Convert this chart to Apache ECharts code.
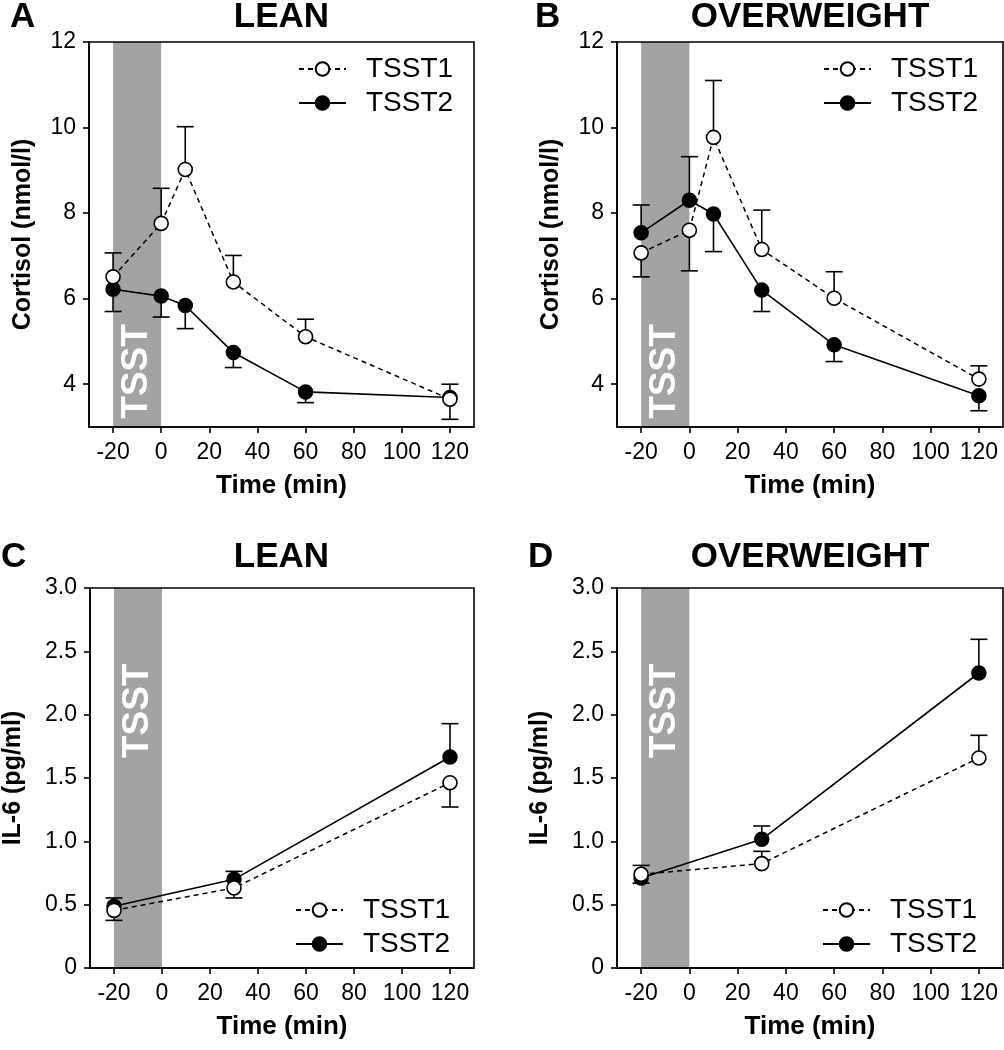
<!DOCTYPE html>
<html>
<head>
<meta charset="utf-8">
<script src="https://cdn.jsdelivr.net/npm/echarts@6/dist/echarts.min.js"></script>
<style>
  html, body { margin: 0; padding: 0; background: #fff; }
  #chart { width: 1004px; height: 1050px; }
</style>
</head>
<body>
<div id="chart"></div>
<script>
// --- data ---
const cortTimes = [-20, 0, 10, 30, 60, 120];
const il6Times = [-20, 30, 120];

// cortisol, lean (A)
const cortLeanT1 = [6.51, 7.76, 9.02, 6.39, 5.11, 3.65];
const cortLeanT1Cap = [7.07, 8.58, 10.02, 7.01, 5.52, 4.00];
const cortLeanT2 = [6.22, 6.06, 5.84, 4.74, 3.82, 3.69];
const cortLeanT2Cap = [5.70, 5.57, 5.30, 4.39, 3.57, 3.18];

// cortisol, overweight (B)
const cortOwT1 = [7.07, 7.60, 9.77, 7.15, 6.01, 4.12];
const cortOwT1Cap = [6.51, 6.65, 11.10, 8.07, 6.63, 4.43];
const cortOwT2 = [7.54, 8.30, 7.98, 6.20, 4.92, 3.73];
const cortOwT2Cap = [8.19, 9.32, 7.10, 5.70, 4.53, 3.38];

// IL-6, lean (C)
const il6LeanT1 = [0.455, 0.632, 1.463];
const il6LeanT1Cap = [0.376, 0.553, 1.271];
const il6LeanT2 = [0.487, 0.70, 1.666];
const il6LeanT2Cap = [0.553, 0.763, 1.929];

// IL-6, overweight (D)
const il6OwT1 = [0.74, 0.824, 1.658];
const il6OwT1Cap = [0.81, 0.921, 1.837];
const il6OwT2 = [0.71, 1.016, 2.329];
const il6OwT2Cap = [0.67, 1.121, 2.595];

const xTicks = [-20, 0, 20, 40, 60, 80, 100, 120];
const cortTicks = [4, 6, 8, 10, 12];
const tsstBand = [-20, 0];

const FONT = 'Liberation Sans, Arial, Helvetica, sans-serif';

const panels = [
  { letter: 'A', title: 'LEAN', kind: 'cort', times: cortTimes, t1: cortLeanT1, t1Cap: cortLeanT1Cap, t2: cortLeanT2, t2Cap: cortLeanT2Cap },
  { letter: 'B', title: 'OVERWEIGHT', kind: 'cort', times: cortTimes, t1: cortOwT1, t1Cap: cortOwT1Cap, t2: cortOwT2, t2Cap: cortOwT2Cap },
  { letter: 'C', title: 'LEAN', kind: 'il6', times: il6Times, t1: il6LeanT1, t1Cap: il6LeanT1Cap, t2: il6LeanT2, t2Cap: il6LeanT2Cap },
  { letter: 'D', title: 'OVERWEIGHT', kind: 'il6', times: il6Times, t1: il6OwT1, t1Cap: il6OwT1Cap, t2: il6OwT2, t2Cap: il6OwT2Cap }
];

// plot boxes
const grids = [
  { left: 89, top: 42, width: 385, height: 385 },
  { left: 617, top: 42, width: 386, height: 385 },
  { left: 89, top: 588, width: 385, height: 380 },
  { left: 617, top: 588, width: 386, height: 380 }
];

const legendPos = [
  { left: 298, top: 55 },
  { left: 823, top: 55 },
  { left: 295, top: 896 },
  { left: 822, top: 896 }
];

// error bar: vertical line from mean to cap, plus a cap
function renderErr(params, api) {
  const x = api.value(0);
  const p1 = api.coord([x, api.value(1)]);
  const p2 = api.coord([x, api.value(2)]);
  const st = { stroke: '#000', lineWidth: 1.6 };
  return {
    type: 'group',
    children: [
      { type: 'line', shape: { x1: p1[0], y1: p1[1], x2: p2[0], y2: p2[1] }, style: st },
      { type: 'line', shape: { x1: p2[0] - 8.5, y1: p2[1], x2: p2[0] + 8.5, y2: p2[1] }, style: st }
    ]
  };
}

const axisLine = { onZero: false, lineStyle: { color: '#000', width: 1.6 } };
const tickStyle = { color: '#000', width: 1.6 };
const nameStyle = { color: '#000', fontSize: 26, fontWeight: 'bold', fontFamily: FONT };

const xAxes = [];
const yAxes = [];
const series = [];
const graphics = [];
const legends = [];

panels.forEach((p, i) => {
  const g = grids[i];
  const isCort = p.kind === 'cort';

  xAxes.push({
    gridIndex: i, type: 'value', min: -30, max: 130, z: 10,
    axisLine: axisLine,
    axisTick: { inside: false, length: 6, lineStyle: tickStyle, customValues: xTicks },
    axisLabel: { customValues: xTicks, color: '#000', fontSize: 23, fontFamily: FONT, margin: 14 },
    splitLine: { show: false },
    name: 'Time (min)', nameLocation: 'middle', nameGap: 46,
    nameTextStyle: nameStyle
  });

  if (isCort) {
    yAxes.push({
      gridIndex: i, type: 'value', min: 3, max: 12, z: 10,
      axisLine: axisLine,
      axisTick: { inside: false, length: 6, lineStyle: tickStyle, customValues: cortTicks },
      axisLabel: { customValues: cortTicks, color: '#000', fontSize: 23, fontFamily: FONT, margin: 13 },
      splitLine: { show: false },
      name: 'Cortisol (nmol/l)', nameLocation: 'middle', nameGap: 53,
      nameTextStyle: Object.assign({}, nameStyle, { fontSize: 25 })
    });
  } else {
    yAxes.push({
      gridIndex: i, type: 'value', min: 0, max: 3, interval: 0.5, z: 10,
      axisLine: axisLine,
      axisTick: { inside: false, length: 6, lineStyle: tickStyle },
      axisLabel: {
        color: '#000', fontSize: 23, fontFamily: FONT, margin: 13,
        formatter: v => (v === 0 ? '0' : v.toFixed(1))
      },
      splitLine: { show: false },
      name: 'IL-6 (pg/ml)', nameLocation: 'middle', nameGap: 64,
      nameTextStyle: Object.assign({}, nameStyle, { fontSize: 25 })
    });
  }

  // grey TSST band with its rotated label
  series.push({
    name: 'TSST band', type: 'scatter', xAxisIndex: i, yAxisIndex: i, z: 1, silent: true,
    symbolSize: 0,
    itemStyle: { opacity: 1 },
    data: [[-10, isCort ? 4.3 : 2.03]],
    label: {
      show: true, position: 'inside', formatter: 'TSST', rotate: 90, opacity: 1,
      color: '#ffffff', fontSize: 37, fontWeight: 'bold', fontFamily: FONT
    },
    markArea: {
      silent: true, z: 1,
      itemStyle: { color: '#a3a3a3', opacity: 1 },
      data: [[{ xAxis: tsstBand[0] }, { xAxis: tsstBand[1] }]]
    }
  });

  const errData = (means, caps) => p.times.map((t, k) => [t, means[k], caps[k]]);

  series.push({
    name: 'err1', type: 'custom', xAxisIndex: i, yAxisIndex: i, z: 3, silent: true,
    renderItem: renderErr, encode: { x: 0, y: [1, 2] }, data: errData(p.t1, p.t1Cap)
  });
  series.push({
    name: 'err2', type: 'custom', xAxisIndex: i, yAxisIndex: i, z: 3, silent: true,
    renderItem: renderErr, encode: { x: 0, y: [1, 2] }, data: errData(p.t2, p.t2Cap)
  });

  series.push({
    name: 'TSST2', type: 'line', xAxisIndex: i, yAxisIndex: i, z: 4,
    symbol: 'circle', symbolSize: 14,
    itemStyle: { color: '#000', borderColor: '#000', borderWidth: 1.5 },
    lineStyle: { color: '#000', width: 1.6, type: 'solid' },
    data: p.times.map((t, k) => [t, p.t2[k]])
  });
  series.push({
    name: 'TSST1', type: 'line', xAxisIndex: i, yAxisIndex: i, z: 5,
    symbol: 'circle', symbolSize: 14,
    itemStyle: { color: '#fff', borderColor: '#000', borderWidth: 1.6 },
    lineStyle: { color: '#000', width: 1.5, type: [5, 4] },
    data: p.times.map((t, k) => [t, p.t1[k]])
  });

  legends.push({
    orient: 'vertical', left: legendPos[i].left, top: legendPos[i].top, padding: 0,
    data: ['TSST1', 'TSST2'], selectedMode: false,
    itemWidth: 47, itemHeight: 17, itemGap: 6,
    textStyle: { color: '#000', fontSize: 28, fontFamily: FONT, padding: [0, 0, 0, 15] }
  });

  // panel letter and title
  const cy = i < 2 ? 17 : 557;
  const letterX = [10, 535, 1, 528][i];
  graphics.push({
    type: 'text', x: letterX, y: cy,
    style: { text: p.letter, fill: '#000', font: 'bold 35px ' + FONT, align: 'left', verticalAlign: 'middle' }
  });
  graphics.push({
    type: 'text', x: g.left + g.width / 2, y: cy,
    style: { text: p.title, fill: '#000', font: 'bold 35px ' + FONT, align: 'center', verticalAlign: 'middle' }
  });
});

const chart = echarts.init(document.getElementById('chart'), null, { renderer: 'canvas' });
chart.setOption({
  animation: false,
  backgroundColor: '#fff',
  grid: grids.map(g => Object.assign({
    show: true, z: 10, borderColor: '#000', borderWidth: 1.6, backgroundColor: 'transparent'
  }, g)),
  xAxis: xAxes,
  yAxis: yAxes,
  legend: legends,
  graphic: graphics,
  series: series
});
</script>
</body>
</html>
